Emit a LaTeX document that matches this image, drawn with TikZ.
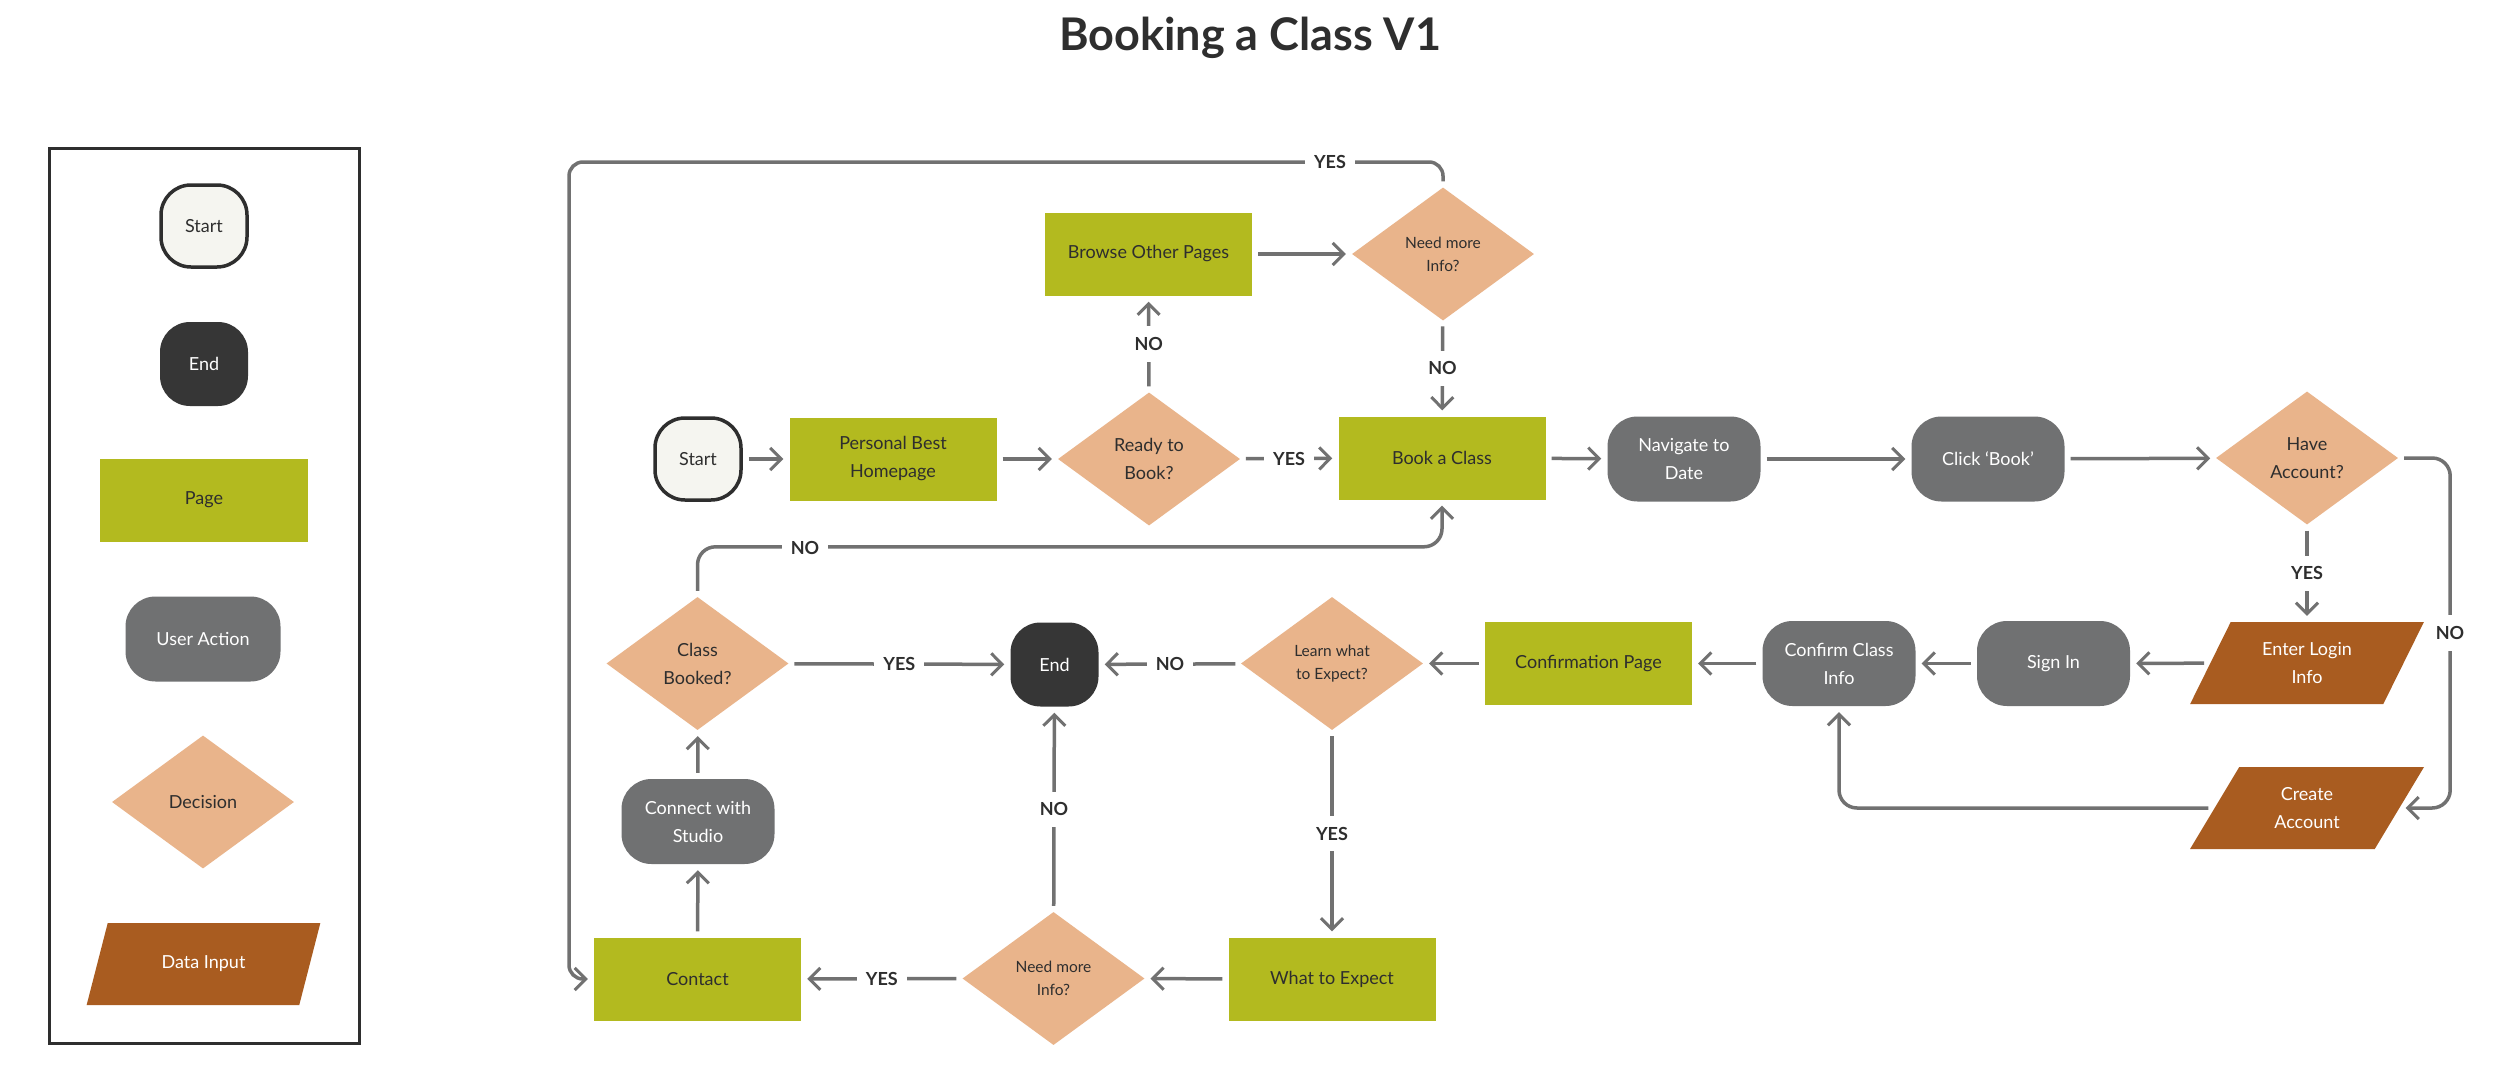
\documentclass[tikz,border=0pt]{standalone}
\usepackage{fontspec}
\setmainfont{Lato}
\usetikzlibrary{shapes.geometric,arrows.meta}
\definecolor{pagegreen}{HTML}{B3BA1F}
\definecolor{decisionc}{HTML}{E9B48B}
\definecolor{datainput}{HTML}{A95C20}
\definecolor{useraction}{HTML}{707172}
\definecolor{endfill}{HTML}{363636}
\definecolor{startfill}{HTML}{F5F5F0}
\definecolor{linegray}{HTML}{717171}
\definecolor{textdark}{HTML}{2E2E2E}
\begin{document}
\begin{tikzpicture}[x=1pt,y=-1pt,
  base/.style={font=\fontsize{18}{28}\selectfont, align=center, inner sep=0pt},
  startbox/.style={base, rounded corners=30pt, draw=textdark, line width=3.5pt, fill=startfill, minimum width=86pt, minimum height=82pt, text=textdark},
  endbox/.style={base, rounded corners=30pt, fill=endfill, minimum width=88pt, minimum height=84pt, text=white},
  pagebox/.style={base, fill=pagegreen, minimum width=207pt, minimum height=83pt, text=textdark},
  actionbox/.style={base, rounded corners=30pt, fill=useraction, minimum width=153pt, minimum height=85pt, text=white},
  decisionbox/.style={base, diamond, fill=decisionc, minimum width=182pt, minimum height=133pt, text=textdark},
  smalltext/.style={font=\fontsize{15.5}{23}\selectfont},
  inputbox/.style={base, trapezium, trapezium left angle=60, trapezium right angle=120, trapezium stretches=true, fill=datainput, minimum width=234pt, minimum height=82pt, text=white},
  flow/.style={draw=linegray, line width=3.5pt, -{Straight Barb[length=11pt,width=22pt,line width=3pt]}, shorten <=6pt, shorten >=6pt},
  lbl/.style={font=\bfseries\fontsize{18}{18}\selectfont, text=textdark, fill=white, inner xsep=9pt, inner ysep=11pt},
]
\useasboundingbox (0,0) rectangle (2500,1092);
\fill[white] (0,0) rectangle (2500,1092);

% title
\node[anchor=base, font=\bfseries\fontsize{45}{45}\selectfont, text=textdark] (title) at (1250,50) {Booking a Class V1};

% legend
\node[draw=textdark, line width=3pt, minimum width=310pt, minimum height=895pt, inner sep=0pt] (legend) at (204,595.5) {};
\node[startbox] (lstart) at (204,226) {Start};
\node[endbox] (lend) at (204,364) {End};
\node[pagebox, minimum width=208pt] (lpage) at (204,500) {Page};
\node[actionbox, minimum width=155pt] (laction) at (203,639) {User Action};
\node[decisionbox] (ldecision) at (203,802) {Decision};
\node[inputbox] (linput) at (203.5,964) {Data Input};

% main nodes
\node[startbox] (start) at (698,459) {Start};
\node[pagebox] (home) at (893,459) {Personal Best\\Homepage};
\node[decisionbox] (ready) at (1149,459) {Ready to\\Book?};
\node[pagebox] (browse) at (1148.5,254) {Browse Other Pages};
\node[decisionbox, smalltext] (need1) at (1443,254) {Need more\\Info?};
\node[pagebox] (book) at (1442,458) {Book a Class};
\node[actionbox] (nav) at (1684,459) {Navigate to\\Date};
\node[actionbox] (click) at (1988,459) {Click ‘Book’};
\node[decisionbox] (have) at (2307,458) {Have\\Account?};
\node[inputbox] (login) at (2307,663) {Enter Login\\Info};
\node[inputbox] (create) at (2307,808) {Create\\Account};
\node[actionbox] (signin) at (2053.5,663.5) {Sign In};
\node[actionbox] (confirm) at (1839,663.5) {Confirm Class\\Info};
\node[pagebox] (confpage) at (1588.5,663.5) {Confirmation Page};
\node[decisionbox, smalltext] (learn) at (1332,663.5) {Learn what\\to Expect?};
\node[endbox] (endn) at (1054.5,664.5) {End};
\node[decisionbox] (booked) at (697.5,663.5) {Class\\Booked?};
\node[actionbox] (connect) at (698,821.5) {Connect with\\Studio};
\node[pagebox] (contact) at (697.5,979) {Contact};
\node[decisionbox, smalltext] (need2) at (1053.5,978.5) {Need more\\Info?};
\node[pagebox] (what) at (1332,979) {What to Expect};

% connectors
\draw[flow] (start) -- (home);
\draw[flow] (home) -- (ready);
\draw[flow] (ready) -- node[lbl] {NO} (browse);
\draw[flow] (browse) -- (need1);
\draw[flow] (need1) -- node[lbl] {NO} (book);
\draw[flow] (ready) -- node[lbl] {YES} (book);
\draw[flow] (book) -- (nav);
\draw[flow] (nav) -- (click);
\draw[flow] (click) -- (have);
\draw[flow] (have) -- node[lbl] {YES} (login);
\draw[flow, rounded corners=18pt] (have.east) -- ++(52,0) |- (create.east);
\node[lbl] (noacc) at (2450,633) {NO};
\draw[flow] (login) -- (signin);
\draw[flow] (signin) -- (confirm);
\draw[flow] (confirm) -- (confpage);
\draw[flow] (confpage) -- (learn);
\draw[flow, rounded corners=18pt] (create.west) -| (confirm.south);
\draw[flow] (learn) -- node[lbl] {NO} (endn);
\draw[flow] (learn) -- node[lbl] {YES} (what);
\draw[flow] (what) -- (need2);
\draw[flow] (need2) -- node[lbl] {YES} (contact);
\draw[flow] (need2) -- node[lbl] {NO} (endn);
\draw[flow] (contact) -- (connect);
\draw[flow] (connect) -- (booked);
\draw[flow] (booked) -- node[lbl] {YES} (endn);
\draw[flow, rounded corners=18pt] (booked.north) -- ++(0,-50) -| (book.south);
\node[lbl] (nobooked) at (805,548) {NO};
\coordinate (yesleft) at (569,162);
\draw[flow, rounded corners=14pt] (need1.north) |- (yesleft) |- (contact.west);
\node[lbl] (yesinfo) at (1330,162) {YES};
\end{tikzpicture}
\end{document}
